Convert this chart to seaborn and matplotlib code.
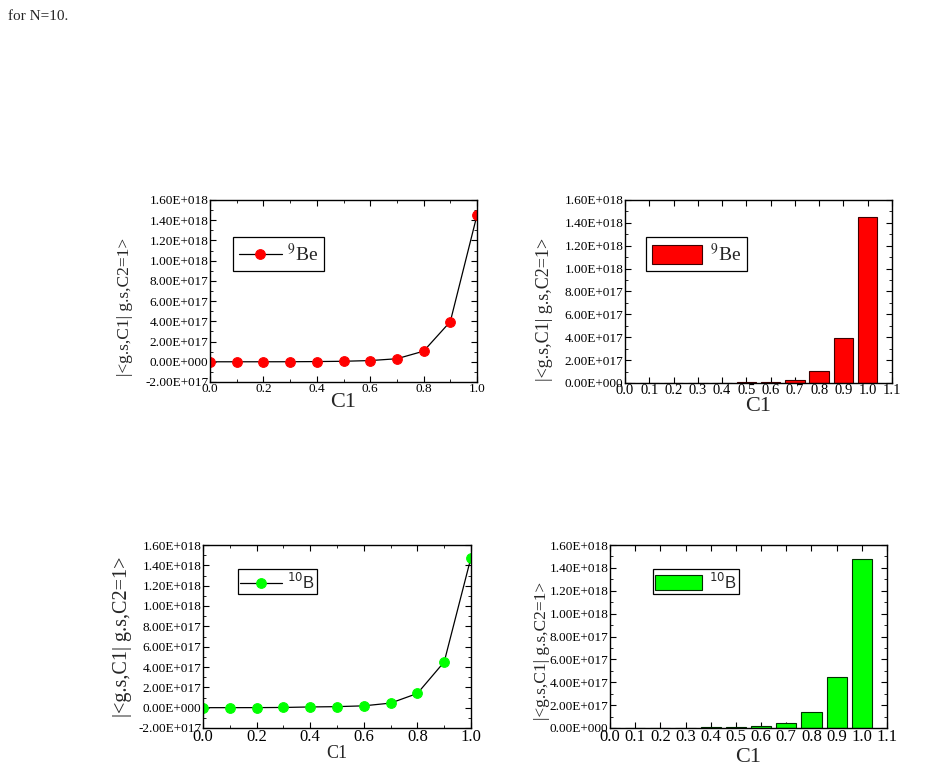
import numpy as np
import pandas as pd
import matplotlib.pyplot as plt
import seaborn as sns
from matplotlib.ticker import FixedLocator, MultipleLocator
from matplotlib.font_manager import FontProperties

# Datos
c1 = [0.0, 0.1, 0.2, 0.3, 0.4, 0.5, 0.6, 0.7, 0.8, 0.9, 1.0]
be9 = [0.0, 1e13, 1e14, 5e14, 2e15, 5e15, 1.2e16, 3.0e16, 1.05e17, 3.97e17, 1.45e18]
b10 = [0.0, 1e14, 5e14, 2e15, 7e15, 1.0e16, 1.8e16, 4.5e16, 1.4e17, 4.5e17, 1.477e18]

yticks_line = [-2e17, 0, 2e17, 4e17, 6e17, 8e17, 1e18, 1.2e18, 1.4e18, 1.6e18]
yticklabels_line = ['-2.00E+017', '0.00E+000', '2.00E+017', '4.00E+017', '6.00E+017',
                    '8.00E+017', '1.00E+018', '1.20E+018', '1.40E+018', '1.60E+018']
yticks_bar = yticks_line[1:]
yticklabels_bar = yticklabels_line[1:]
xticks_bar = [0.0, 0.1, 0.2, 0.3, 0.4, 0.5, 0.6, 0.7, 0.8, 0.9, 1.0, 1.1]

ylabel = '|<g.s,C1| g.s,C2=1>'

df = pd.DataFrame({'C1': c1, 'Be': be9, 'B': b10})

sns.set_style('ticks')
plt.rcParams['font.family'] = ['Liberation Serif', 'DejaVu Serif']
plt.rcParams['mathtext.fontset'] = 'stix'

fig = plt.figure(figsize=(9.32, 7.73), dpi=100)
W, H = 932, 773


def add_ax(x0, y0, x1, y1):
    return fig.add_axes([x0 / W, 1 - y1 / H, (x1 - x0) / W, (y1 - y0) / H])


def style(ax, tick_size):
    for s in ax.spines.values():
        s.set_visible(True)
        s.set_linewidth(1.0)
        s.set_color('black')
    ax.tick_params(which='both', direction='in', top=True, right=True,
                   labelsize=tick_size, pad=1, colors='black')
    ax.tick_params(which='major', length=4)
    ax.tick_params(which='minor', length=2)


be_prop = FontProperties(family='Liberation Serif', size=14, math_fontfamily='stix')
b_prop = FontProperties(family='Liberation Sans', size=12, math_fontfamily='dejavusans')

# (a) linea 9Be
ax1 = add_ax(210, 200, 477, 382)
sns.lineplot(data=df, x='C1', y='Be', ax=ax1, color='black', linewidth=0.9,
             marker='o', markersize=7, markerfacecolor='red', markeredgecolor='red',
             label=r'$^{9}$Be')
ax1.set_xlim(0, 1.0)
ax1.set_ylim(-2e17, 1.6e18)
ax1.xaxis.set_minor_locator(MultipleLocator(0.1))
ax1.set_xticks([0.0, 0.2, 0.4, 0.6, 0.8, 1.0], ['0.0', '0.2', '0.4', '0.6', '0.8', '1.0'])
ax1.yaxis.set_major_locator(FixedLocator(yticks_line))
ax1.set_yticklabels(yticklabels_line)
ax1.yaxis.set_minor_locator(MultipleLocator(1e17))
style(ax1, 9.5)
ax1.set_xlabel('C1', fontsize=16, labelpad=-2)
ax1.set_ylabel(ylabel, fontsize=12.5)
ax1.yaxis.set_label_coords(-0.288, 0.41)
ax1.legend(loc='upper left', bbox_to_anchor=(0.086, 0.797), borderaxespad=0,
           fancybox=False, edgecolor='black', framealpha=1, prop=be_prop,
           handlelength=2.2, handletextpad=0.3, borderpad=0.3)
ax1.get_legend().get_frame().set_linewidth(0.9)

# (b) barras 9Be
ax2 = add_ax(625, 200, 892, 383)
sns.barplot(data=df, x='C1', y='Be', ax=ax2, native_scale=True, color='red',
            saturation=1, edgecolor='#400000', linewidth=0.8, errorbar=None,
            label=r'$^{9}$Be')
ax2.set_xlim(0, 1.1)
ax2.set_ylim(0, 1.6e18)
ax2.set_xticks(xticks_bar, ['%.1f' % v for v in xticks_bar])
ax2.yaxis.set_major_locator(FixedLocator(yticks_bar))
ax2.set_yticklabels(yticklabels_bar)
ax2.yaxis.set_minor_locator(MultipleLocator(1e17))
style(ax2, 9.5)
ax2.tick_params(axis='x', labelsize=10.5)
ax2.set_xlabel('C1', fontsize=16, labelpad=0)
ax2.set_ylabel(ylabel, fontsize=13)
ax2.yaxis.set_label_coords(-0.27, 0.40)
ax2.legend(loc='upper left', bbox_to_anchor=(0.079, 0.798), borderaxespad=0,
           fancybox=False, edgecolor='black', framealpha=1, prop=be_prop,
           handlelength=2.6, handleheight=1.1, handletextpad=0.4, borderpad=0.3)
ax2.get_legend().get_frame().set_linewidth(0.9)

# (c) linea 10B
ax3 = add_ax(203, 545, 471, 728)
sns.lineplot(data=df, x='C1', y='B', ax=ax3, color='black', linewidth=0.9,
             marker='o', markersize=7, markerfacecolor='#00ff00', markeredgecolor='#00ff00',
             label=r'$^{10}$B')
ax3.set_xlim(0, 1.0)
ax3.set_ylim(-2e17, 1.6e18)
ax3.xaxis.set_minor_locator(MultipleLocator(0.1))
ax3.set_xticks([0.0, 0.2, 0.4, 0.6, 0.8, 1.0], ['0.0', '0.2', '0.4', '0.6', '0.8', '1.0'])
ax3.yaxis.set_major_locator(FixedLocator(yticks_line))
ax3.set_yticklabels(yticklabels_line)
ax3.yaxis.set_minor_locator(MultipleLocator(1e17))
style(ax3, 9.5)
ax3.tick_params(axis='x', labelsize=12)
ax3.set_xlabel('C1', fontsize=13, labelpad=0)
ax3.set_ylabel(ylabel, fontsize=14.5)
ax3.yaxis.set_label_coords(-0.265, 0.5)
ax3.legend(loc='upper left', bbox_to_anchor=(0.13, 0.869), borderaxespad=0,
           fancybox=False, edgecolor='black', framealpha=1, prop=b_prop,
           handlelength=2.5, handletextpad=0.3, borderpad=0.15)
ax3.get_legend().get_frame().set_linewidth(0.9)

# (d) barras 10B
ax4 = add_ax(610, 545, 887, 728)
sns.barplot(data=df, x='C1', y='B', ax=ax4, native_scale=True, color='#00ff00',
            saturation=1, edgecolor='#003000', linewidth=0.8, errorbar=None,
            label=r'$^{10}$B')
ax4.set_xlim(0, 1.1)
ax4.set_ylim(0, 1.6e18)
ax4.set_xticks(xticks_bar, ['%.1f' % v for v in xticks_bar])
ax4.yaxis.set_major_locator(FixedLocator(yticks_bar))
ax4.set_yticklabels(yticklabels_bar)
ax4.yaxis.set_minor_locator(MultipleLocator(1e17))
style(ax4, 9.5)
ax4.tick_params(axis='x', labelsize=12)
ax4.set_xlabel('C1', fontsize=16, labelpad=2)
ax4.set_ylabel(ylabel, fontsize=12.5)
ax4.yaxis.set_label_coords(-0.217, 0.42)
ax4.legend(loc='upper left', bbox_to_anchor=(0.155, 0.869), borderaxespad=0,
           fancybox=False, edgecolor='black', framealpha=1, prop=b_prop,
           handlelength=2.8, handleheight=1.0, handletextpad=0.4, borderpad=0.15)
ax4.get_legend().get_frame().set_linewidth(0.9)

fig.text(8 / W, 1 - 20 / H, 'for N=10.', fontsize=11, va='baseline', ha='left')

fig.savefig('out.png', dpi=100)
